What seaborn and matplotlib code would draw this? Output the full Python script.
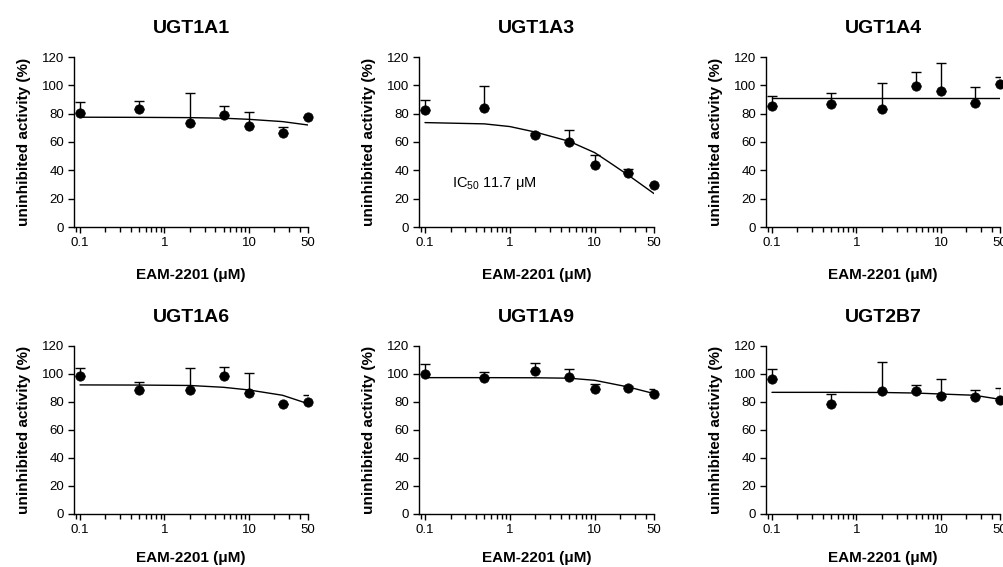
import matplotlib
matplotlib.use('Agg')
import matplotlib.pyplot as plt
import matplotlib.ticker as mticker
import seaborn as sns
import pandas as pd

# concentrations of EAM-2201 (uM)
conc = [0.1, 0.5, 2, 5, 10, 25, 50]

# mean uninhibited activity (%) and upper error (SD)
ugt1a1_mean = [80.8, 83.2, 73.2, 79.4, 71.3, 66.1, 78.0]
ugt1a1_err = [7.1, 5.4, 21.3, 6.1, 10.2, 4.8, 0.0]
ugt1a1_fit = [77.5, 77.4, 77.2, 76.8, 76.0, 74.4, 72.0]

ugt1a3_mean = [82.7, 84.3, 65.0, 60.2, 43.7, 37.8, 29.5]
ugt1a3_err = [7.1, 15.4, 1.5, 8.3, 7.1, 2.8, 0.0]
ugt1a3_fit_conc = [0.1, 0.5, 1, 2, 5, 10, 15, 25, 50]
ugt1a3_fit = [73.7, 72.8, 70.9, 67.0, 60.5, 52.5, 45.5, 36.5, 23.6]

ugt1a4_mean = [85.5, 86.9, 83.2, 99.2, 95.7, 87.4, 100.9]
ugt1a4_err = [7.1, 7.6, 18.4, 10.2, 20.1, 11.3, 4.9]
ugt1a4_fit = [91.2, 91.2, 91.2, 91.2, 91.2, 91.2, 91.2]

ugt1a6_mean = [98.6, 88.3, 88.8, 98.6, 86.7, 78.3, 80.0]
ugt1a6_err = [5.9, 6.0, 15.7, 6.4, 14.0, 0.0, 5.2]
ugt1a6_fit = [92.2, 92.1, 91.8, 90.5, 88.6, 84.8, 78.8]

ugt1a9_mean = [100.2, 97.4, 101.9, 97.9, 89.0, 90.0, 86.0]
ugt1a9_err = [6.7, 4.0, 6.0, 5.7, 3.9, 1.4, 3.3]
ugt1a9_fit = [97.4, 97.4, 97.3, 97.0, 95.5, 90.7, 86.0]

ugt2b7_mean = [96.2, 78.8, 87.6, 87.6, 84.3, 83.6, 81.2]
ugt2b7_err = [7.1, 7.2, 21.0, 4.3, 11.9, 4.7, 9.0]
ugt2b7_fit = [86.9, 86.9, 86.8, 86.4, 85.7, 84.8, 81.9]

titles = ['UGT1A1', 'UGT1A3', 'UGT1A4', 'UGT1A6', 'UGT1A9', 'UGT2B7']
means = [ugt1a1_mean, ugt1a3_mean, ugt1a4_mean, ugt1a6_mean, ugt1a9_mean, ugt2b7_mean]
errs = [ugt1a1_err, ugt1a3_err, ugt1a4_err, ugt1a6_err, ugt1a9_err, ugt2b7_err]
fit_x = [conc, ugt1a3_fit_conc, conc, conc, conc, conc]
fit_y = [ugt1a1_fit, ugt1a3_fit, ugt1a4_fit, ugt1a6_fit, ugt1a9_fit, ugt2b7_fit]

sns.set_style('ticks')
plt.rcParams['font.family'] = ['Liberation Sans', 'DejaVu Sans']
plt.rcParams['mathtext.fontset'] = 'custom'
plt.rcParams['mathtext.rm'] = 'Liberation Sans'
plt.rcParams['mathtext.it'] = 'Liberation Sans'
plt.rcParams['text.color'] = 'black'
plt.rcParams['axes.labelcolor'] = 'black'
plt.rcParams['xtick.color'] = 'black'
plt.rcParams['ytick.color'] = 'black'

fig = plt.figure(figsize=(10.04, 5.67), dpi=100)

W, H = 1004, 567
lefts = [74, 419, 766]
widths = [234, 235, 234]
rows = [(57, 227), (346, 514)]
xlabel_pads = [14, 11]

for i, title in enumerate(titles):
    r, c = divmod(i, 3)
    top, bot = rows[r]
    ax = fig.add_axes([lefts[c] / W, 1 - bot / H, widths[c] / W, (bot - top) / H])

    df = pd.DataFrame({'conc': conc, 'activity': means[i]})
    fit = pd.DataFrame({'conc': fit_x[i], 'activity': fit_y[i]})

    ax.errorbar(conc, means[i], yerr=[[0] * len(conc), errs[i]], fmt='none',
                ecolor='black', elinewidth=1, capsize=3.5, capthick=1, zorder=2)
    sns.lineplot(data=fit, x='conc', y='activity', ax=ax, color='black',
                 linewidth=1, estimator=None, zorder=3)
    sns.scatterplot(data=df, x='conc', y='activity', ax=ax, color='black',
                    s=45, edgecolor='black', zorder=4, clip_on=False)

    ax.set_xscale('log')
    ax.set_xlim(0.085, 50)
    ax.set_ylim(0, 120)
    ax.set_yticks(range(0, 121, 20))
    ax.xaxis.set_major_locator(mticker.FixedLocator([0.1, 1, 10, 50]))
    ax.xaxis.set_major_formatter(mticker.FixedFormatter(['0.1', '1', '10', '50']))
    ax.xaxis.set_minor_locator(mticker.LogLocator(base=10, subs=range(2, 10)))
    ax.xaxis.set_minor_formatter(mticker.NullFormatter())
    ax.tick_params(axis='both', which='major', labelsize=9.5, direction='out',
                   length=4, width=1, color='black', labelcolor='black', pad=3)
    ax.tick_params(axis='x', which='minor', direction='out', length=3.5, width=1,
                   color='black')
    for s in ['top', 'right']:
        ax.spines[s].set_visible(False)
    for s in ['left', 'bottom']:
        ax.spines[s].set_color('black')
        ax.spines[s].set_linewidth(1)

    ax.set_title(title, fontsize=14, fontweight='bold', pad=17, color='black')
    ax.set_xlabel('EAM-2201 (μM)', fontsize=11, fontweight='bold', labelpad=xlabel_pads[r])
    ax.set_ylabel('uninhibited activity (%)', fontsize=11, fontweight='bold', labelpad=8)

    if title == 'UGT1A3':
        ax.text(0.21, 31, r'IC$_{50}$ 11.7 μM', fontsize=10.5, va='center', ha='left')

fig.savefig('out.png', dpi=100)
